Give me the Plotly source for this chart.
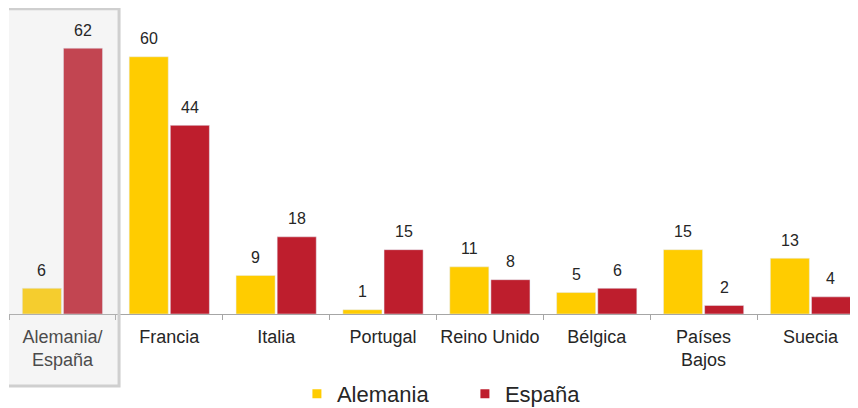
import plotly.graph_objs as go

# data
categories = ["Alemania/<br>España", "Francia", "Italia", "Portugal", "Reino Unido",
              "Bélgica", "Países<br>Bajos", "Suecia"]
alemania = [6, 60, 9, 1, 11, 5, 15, 13]
espana = [62, 44, 18, 15, 8, 6, 2, 4]

YELLOW = "#FFCC00"
RED = "#BE1E2D"
FONT = "Liberation Sans, Arial, sans-serif"
TXT = "#262626"

fig = go.Figure()
fig.add_trace(go.Bar(x=categories, y=alemania, name="Alemania", marker=dict(color=YELLOW),
                     showlegend=False))
fig.add_trace(go.Bar(x=categories, y=espana, name="España", marker=dict(color=RED),
                     showlegend=False))

# legend entries with small square swatches
fig.add_trace(go.Scatter(x=[None], y=[None], mode="markers", name="Alemania",
                         marker=dict(symbol="square", size=9, color=YELLOW)))
fig.add_trace(go.Scatter(x=[None], y=[None], mode="markers", name="España",
                         marker=dict(symbol="square", size=9, color=RED)))

# value labels above each bar
annotations = []
for cat, a, e in zip(categories, alemania, espana):
    annotations.append(dict(x=cat, y=a, xref="x", yref="y", text=str(a), showarrow=False,
                            xshift=-20.5, yshift=18, font=dict(size=16, color=TXT, family=FONT)))
    annotations.append(dict(x=cat, y=e, xref="x", yref="y", text=str(e), showarrow=False,
                            xshift=20.5, yshift=18, font=dict(size=16, color=TXT, family=FONT)))

# highlight box over the first category
shapes = [dict(type="rect", xref="x", yref="paper", x0=-0.52, x1=0.53, y0=-0.237, y1=1.004,
               fillcolor="rgba(209,209,209,0.22)", line=dict(color="#CFCFCF", width=3),
               layer="above")]

# page has an 8px body margin, so the figure is 8px smaller than the window
fig.update_layout(
    width=850, height=400,
    margin=dict(l=1, r=0, t=2, b=94, autoexpand=False),
    plot_bgcolor="white", paper_bgcolor="white",
    barmode="group", bargap=0.23, bargroupgap=0.05,
    font=dict(family=FONT, color=TXT),
    annotations=annotations, shapes=shapes,
    showlegend=True,
    legend=dict(orientation="h", x=0.537, xanchor="center", y=-0.263, yanchor="middle",
                font=dict(size=22, color=TXT, family=FONT), entrywidth=123,
                itemclick=False),
)
fig.update_xaxes(range=[-0.5, 7.445], showline=True, linecolor="#A6A6A6", linewidth=1,
                 ticks="outside", tickson="boundaries", ticklen=5, tickcolor="#A6A6A6",
                 tickangle=0, automargin=False,
                 tickfont=dict(size=18, color=TXT, family=FONT), ticklabelstandoff=6,
                 showgrid=False, fixedrange=True)
fig.update_yaxes(range=[0, 70.9], visible=False, showgrid=False, zeroline=False, fixedrange=True)

fig.write_html("out.html")
